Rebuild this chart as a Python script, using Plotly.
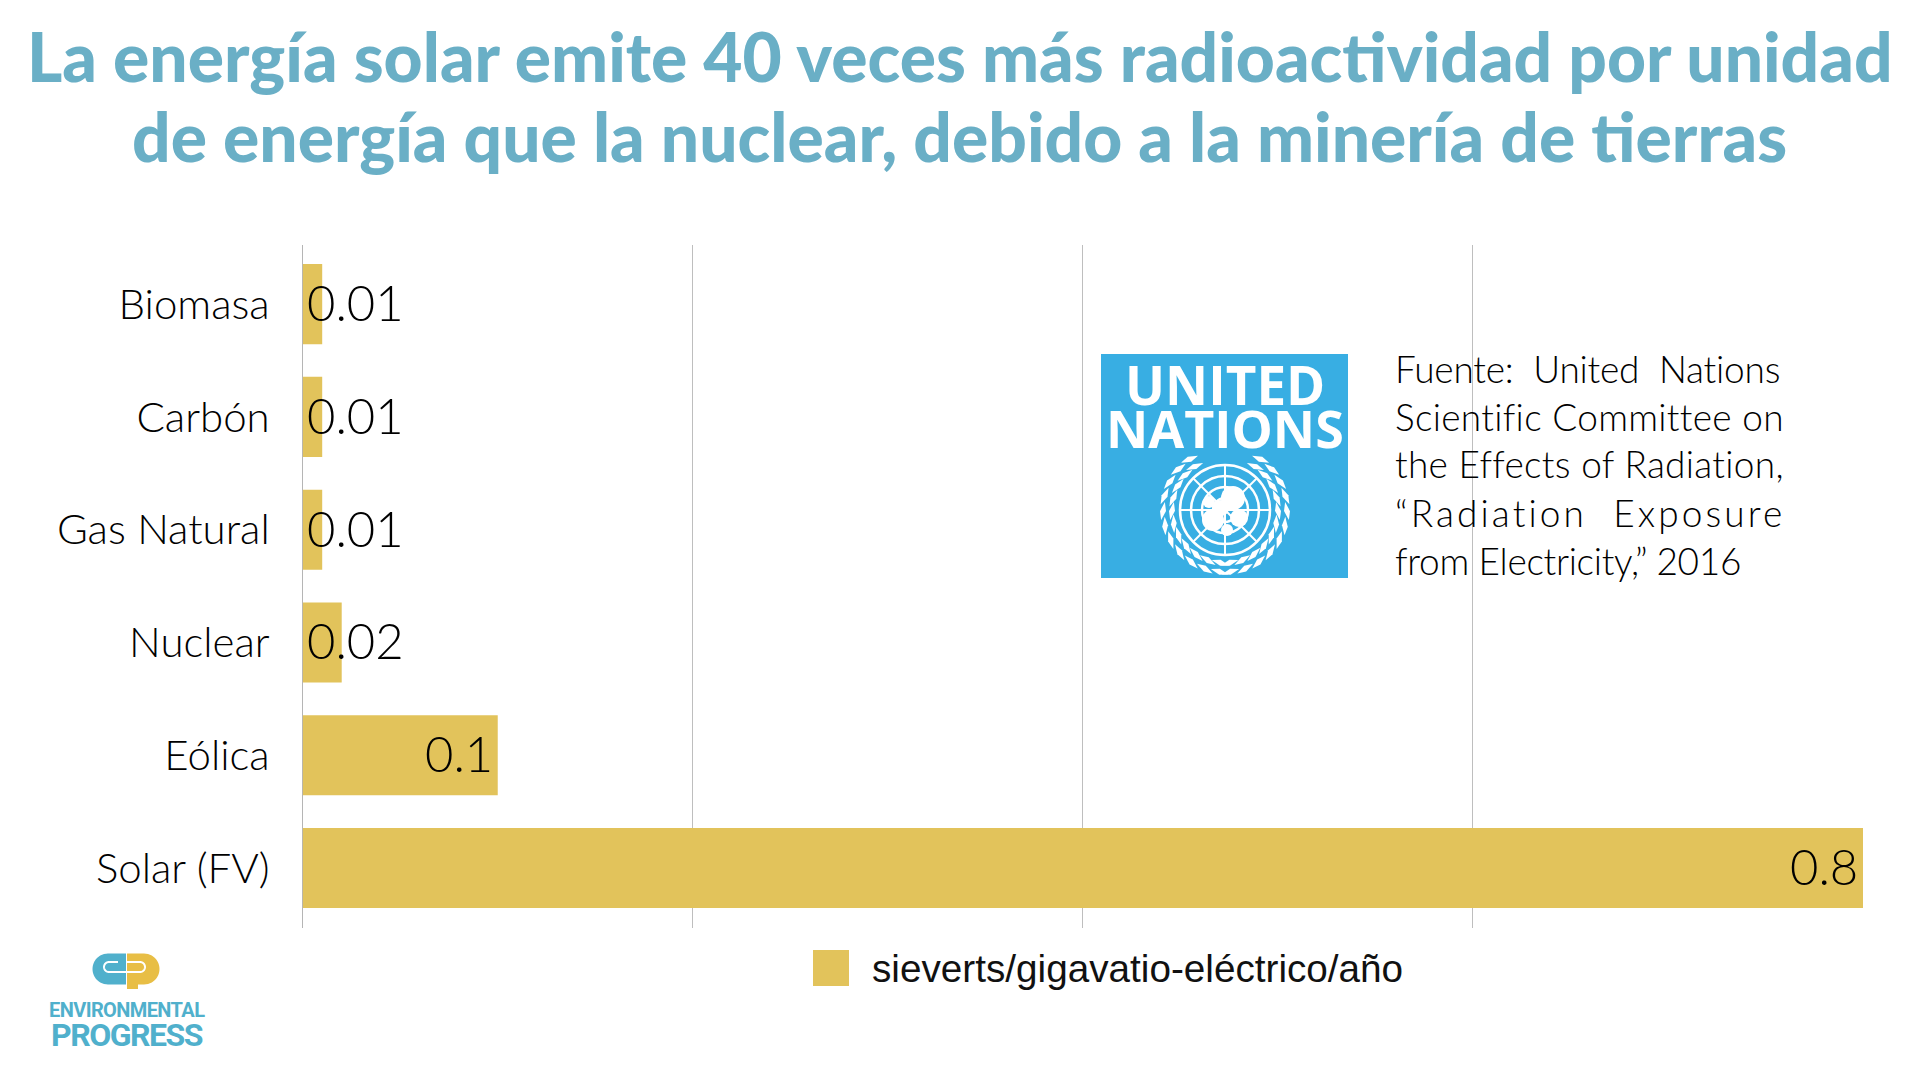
import math
import plotly.graph_objects as go

# ---------- data ----------
categories = ["Biomasa", "Carbón", "Gas Natural", "Nuclear", "Eólica", "Solar (FV)"]
values = [0.01, 0.01, 0.01, 0.02, 0.1, 0.8]
value_labels = ["0.01", "0.01", "0.01", "0.02", "0.1", "0.8"]
x_ticks = [0, 0.2, 0.4, 0.6, 0.8]
series_name = "sieverts/gigavatio-eléctrico/año"
title_lines = ["La energía solar emite 40 veces más radioactividad por unidad",
               "de energía que la nuclear, debido a la minería de tierras"]
source_lines = ["Fuente:\u00a0\u00a0United\u00a0\u00a0Nations",
                "Scientific Committee on",
                "the Effects of Radiation,",
                "“Radiation\u00a0\u00a0Exposure",
                "from Electricity,” 2016"]
source_spacing = [-0.2, 0.3, 0.3, 3.1, -0.3]

W, H = 1920, 1080
BAR = "#E2C35B"
TITLE = "#6AAFC6"
UN = "#38AEE3"
TEAL = "#50B0CC"
YEL = "#E8BE45"
BODY = "Lato"

def X(p): return p / W
def Y(p): return 1 - p / H

def path(points, close=True):
    s = "M" + " L".join(f"{X(a):.5f},{Y(b):.5f}" for a, b in points)
    return s + (" Z" if close else "")

def circle(cx, cy, r, **kw):
    return dict(type="circle", xref="paper", yref="paper", x0=X(cx - r), x1=X(cx + r),
                y0=Y(cy + r), y1=Y(cy - r), **kw)

def arc(cx, cy, r, a0, a1, n=24):
    return [(cx + r * math.cos(math.radians(a0 + (a1 - a0) * i / n)),
             cy + r * math.sin(math.radians(a0 + (a1 - a0) * i / n))) for i in range(n + 1)]

fig = go.Figure(go.Bar(y=categories, x=values, orientation="h", marker=dict(color=BAR, line_width=0),
                       name=series_name, showlegend=False, hoverinfo="x+y"))

shapes, ann = [], []

# value labels
for c, v, t in zip(categories, values, value_labels):
    small = v < 0.05
    ann.append(dict(x=0 if small else v, y=c, xref="x", yref="y", text=t, showarrow=False,
                    xanchor="left" if small else "right", yanchor="middle",
                    xshift=3 if small else -4, yshift=2,
                    font=dict(family=BODY, size=49, color="#000", weight=300), borderpad=0))

# title
for t, yy in zip(title_lines, [55, 135]):
    ann.append(dict(x=X(959.5), y=Y(yy), xref="paper", yref="paper", text=t, showarrow=False,
                    xanchor="center", yanchor="middle", font=dict(family="Lato", size=67.7, color=TITLE, weight=900)))

# legend
shapes.append(dict(type="rect", xref="paper", yref="paper", x0=X(813), x1=X(849), y0=Y(986), y1=Y(950),
                   fillcolor=BAR, line_width=0))
ann.append(dict(x=X(870), y=Y(968), xref="paper", yref="paper", text=series_name, showarrow=False,
                xanchor="left", yanchor="middle", font=dict(family="Liberation Sans", size=38.7, color="#111")))

# source text
for t, yy, sp in zip(source_lines, [368, 416, 464, 512, 560], source_spacing):
    txt = f'<span style="letter-spacing:{sp}px">{t}</span>' if sp else t
    ann.append(dict(x=X(1393), y=Y(yy), xref="paper", yref="paper", text=txt, showarrow=False,
                    xanchor="left", yanchor="middle", font=dict(family=BODY, size=37, color="#000", weight=300)))

# UN logo
shapes.append(dict(type="rect", xref="paper", yref="paper", x0=X(1101), x1=X(1348), y0=Y(578), y1=Y(354),
                   fillcolor=UN, line_width=0))
for t, yy, sz in zip(["UNITED", "NATIONS"], [384, 427], [53, 52]):
    ann.append(dict(x=X(1225), y=Y(yy), xref="paper", yref="paper", text=f"<b>{t}</b>", showarrow=False,
                    xanchor="center", yanchor="middle", font=dict(family="Open Sans", size=sz, color="white")))
cx, cy = 1225, 510
for r in (45, 34, 23, 12):
    shapes.append(circle(cx, cy, r, line=dict(color="white", width=2.5)))
for a in range(0, 180, 45):
    ca, sa = math.cos(math.radians(a)), math.sin(math.radians(a))
    shapes.append(dict(type="path", xref="paper", yref="paper",
                       path=path([(cx - 45 * ca, cy - 45 * sa), (cx + 45 * ca, cy + 45 * sa)], False),
                       line=dict(color="white", width=2)))
# continents
for dx, dy, r in [(-12, 10, 11), (8, -12, 12), (14, 8, 9), (-4, -2, 8), (-16, -8, 6), (2, 20, 6)]:
    shapes.append(circle(cx + dx, cy + dy, r, fillcolor="white", line_width=0))
# wreath
for side in (-1, 1):
    for ang in range(-55, 86, 14):
        for rr in (53, 62):
            a = math.radians(ang)
            mx, my = cx + side * rr * math.cos(a), cy + rr * math.sin(a)
            tx, ty = -side * math.sin(a), math.cos(a)
            nx, ny = math.cos(a) * side, math.sin(a)
            L, w = 9, 3
            shapes.append(dict(type="path", xref="paper", yref="paper",
                               path=path([(mx - L * tx - 2 * nx, my - L * ty - 2 * ny), (mx + w * nx, my + w * ny),
                                          (mx + L * tx + 2 * nx, my + L * ty + 2 * ny), (mx - w * nx, my - w * ny)]),
                               fillcolor="white", line_width=0))

# Environmental Progress logo
shapes.append(dict(type="path", xref="paper", yref="paper",
                   path=path(arc(108, 969, 15.5, 90, 270) + [(126, 953.5), (126, 984.5)]), fillcolor=TEAL, line_width=0))
shapes.append(dict(type="path", xref="paper", yref="paper",
                   path=path([(127, 953.5)] + arc(144, 969, 15.5, -90, 90) + [(138, 984.5), (138, 989), (127, 989)]),
                   fillcolor=YEL, line_width=0))
shapes.append(dict(type="path", xref="paper", yref="paper",
                   path=path([(126, 972), (109, 972)] + arc(109, 967, 5, 90, 270) + [(118, 962)], False),
                   line=dict(color="white", width=2)))
shapes.append(dict(type="path", xref="paper", yref="paper",
                   path=path([(127, 962), (140, 962)] + arc(140, 967, 5, -90, 90) + [(127, 972)], False),
                   line=dict(color="white", width=2)))
ann.append(dict(x=X(127), y=Y(1010), xref="paper", yref="paper",
                text='<span style="letter-spacing:-0.6px"><b>ENVIRONMENTAL</b></span>', showarrow=False,
                xanchor="center", yanchor="middle", font=dict(family="Roboto", size=20, color=TEAL)))
ann.append(dict(x=X(127), y=Y(1035), xref="paper", yref="paper",
                text='<span style="letter-spacing:-1.5px"><b>PROGRESS</b></span>', showarrow=False,
                xanchor="center", yanchor="middle", font=dict(family="Roboto", size=32, color=TEAL)))

fig.update_layout(
    width=W, height=H, margin=dict(l=0, r=0, t=0, b=0), autosize=False,
    paper_bgcolor="white", plot_bgcolor="white", bargap=0.29,
    shapes=shapes, annotations=ann,
    xaxis=dict(domain=[302.7 / W, 1863 / W], range=[0, 0.8], tickvals=x_ticks, showticklabels=False,
               showgrid=True, gridcolor="#BEBEBE", gridwidth=1, zeroline=True, zerolinecolor="#B5B5B5",
               zerolinewidth=1, showline=False, ticks=""),
    yaxis=dict(domain=[1 - 927.5 / H, 1 - 245 / H], type="category", categoryorder="array",
               categoryarray=categories, range=[5.527, -0.524], showgrid=False, zeroline=False, showline=False,
               ticks="", ticklabelstandoff=32, tickfont=dict(family=BODY, size=42, color="#000", weight=300)),
)
fig.write_html("out.html", post_script="document.body.style.margin='0';", config=dict(displayModeBar=False))
